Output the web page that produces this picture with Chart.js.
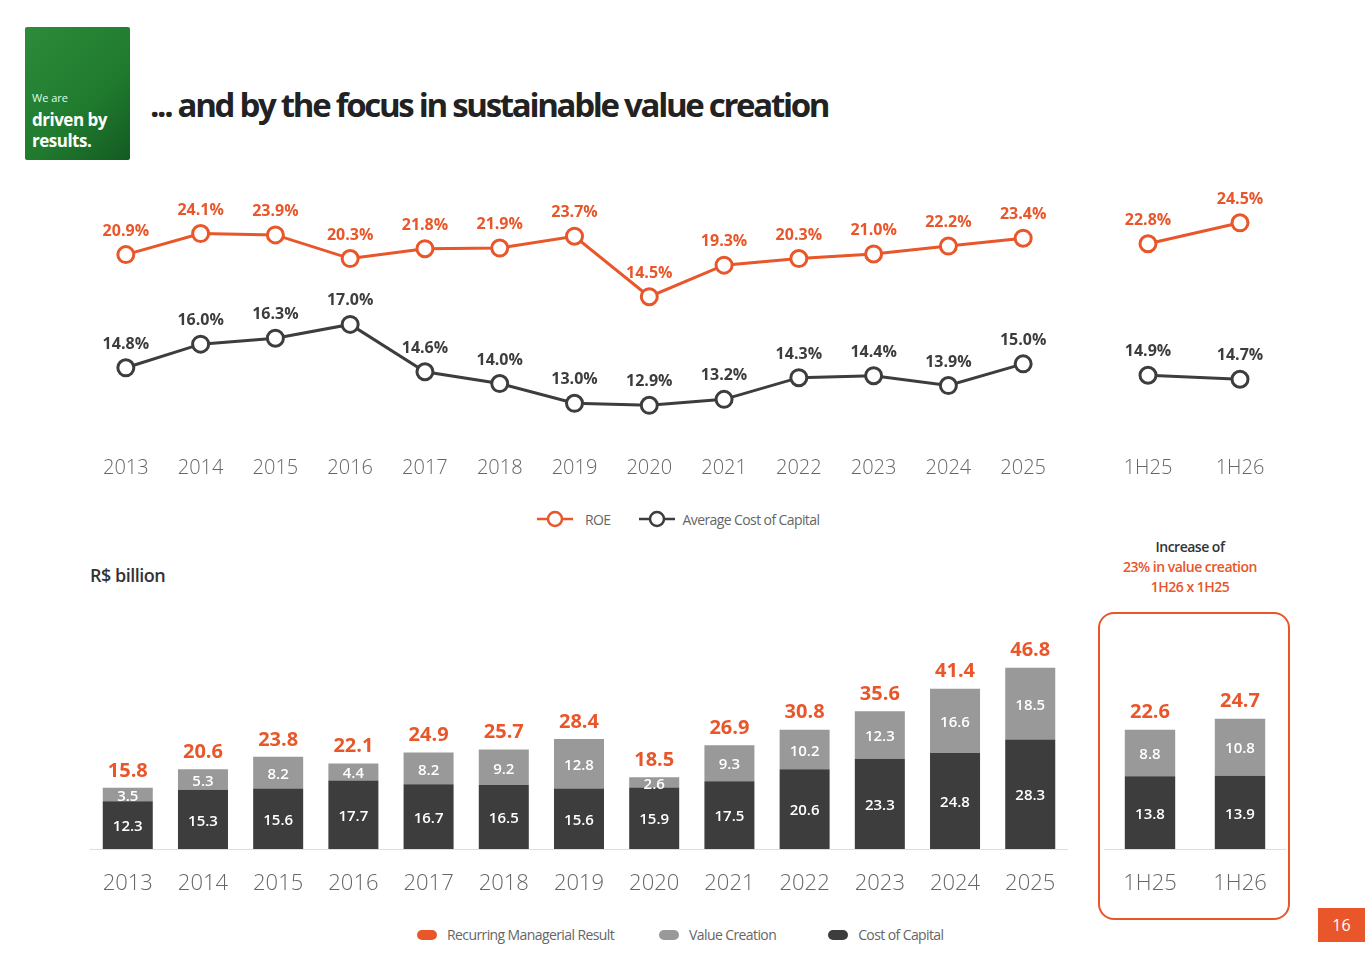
<!DOCTYPE html>
<html><head><meta charset="utf-8">
<script src="https://cdn.jsdelivr.net/npm/chart.js@4.4.1/dist/chart.umd.min.js"></script>
<style>
body{margin:0;width:1365px;height:965px;background:#fff;font-family:"Open Sans",sans-serif;position:relative;overflow:hidden}
.abs{position:absolute}
canvas{position:absolute}
</style></head><body>
<div class="abs" style="left:25px;top:27px;width:105px;height:133px;background:linear-gradient(135deg,#2e8b3a 0%,#1f7a2e 60%,#145a22 100%);border-radius:2px"></div>
<div class="abs" style="left:32px;top:90px;color:#dfe;font-size:11px">We are</div>
<div class="abs" style="left:32px;top:109px;color:#fff;font-size:17px;font-weight:700;line-height:21px;letter-spacing:-0.5px">driven by<br>results.</div>
<div class="abs" style="left:150px;top:82px;color:#222;font-size:33px;font-weight:700;letter-spacing:-2.3px">... and by the focus in sustainable value creation</div>
<div class="abs" style="left:90px;top:563px;color:#333;font-size:18px;font-weight:600;letter-spacing:-0.5px">R$ billion</div>
<div class="abs" style="left:1090px;top:537px;width:200px;text-align:center;font-size:14px;line-height:20px;letter-spacing:-0.5px;font-weight:600"><span style="color:#333">Increase of</span><br><span style="color:#e8562a">23% in value creation<br>1H26 x 1H25</span></div>
<div class="abs" style="left:1098px;top:612px;width:188px;height:304px;border:2px solid #e8562a;border-radius:16px"></div>
<div class="abs" style="left:1318px;top:908px;width:47px;height:34px;background:#e8562a;color:#fff;font-size:16px;text-align:center;line-height:34px">16</div>
<div class="abs" style="left:535px;top:509px;font-size:14px;color:#666;letter-spacing:-0.6px;display:flex;align-items:center">
<svg width="40" height="20"><line x1="2" y1="10" x2="38" y2="10" stroke="#e8562a" stroke-width="2.5"/><circle cx="20" cy="10" r="7" fill="#fff" stroke="#e8562a" stroke-width="2.5"/></svg><span style="margin:0 26px 0 10px">ROE</span>
<svg width="40" height="20"><line x1="2" y1="10" x2="38" y2="10" stroke="#3d3d3d" stroke-width="2.5"/><circle cx="20" cy="10" r="7" fill="#fff" stroke="#3d3d3d" stroke-width="2.5"/></svg><span style="margin-left:6px">Average Cost of Capital</span></div>
<div class="abs" style="left:417px;top:925px;font-size:14px;color:#666;letter-spacing:-0.6px;display:flex;align-items:center">
<span style="width:20px;height:10px;border-radius:5px;background:#e8562a;display:inline-block;margin-right:10px"></span><span style="margin-right:45px">Recurring Managerial Result</span>
<span style="width:20px;height:10px;border-radius:5px;background:#999;display:inline-block;margin-right:10px"></span><span style="margin-right:52px">Value Creation</span>
<span style="width:20px;height:10px;border-radius:5px;background:#3d3d3d;display:inline-block;margin-right:10px"></span><span>Cost of Capital</span></div>

<canvas id="l1" style="left:87px;top:170px" width="975" height="320"></canvas>
<canvas id="l2" style="left:1091px;top:170px" width="206" height="320"></canvas>
<canvas id="b1" style="left:81px;top:600px" width="996" height="310"></canvas>
<canvas id="b2" style="left:1102px;top:600px" width="186" height="310"></canvas>
<script>
const years=["2013","2014","2015","2016","2017","2018","2019","2020","2021","2022","2023","2024","2025"];
const halves=["1H25","1H26"];
const roe=[20.9,24.1,23.9,20.3,21.8,21.9,23.7,14.5,19.3,20.3,21.0,22.2,23.4];
const coc=[14.8,16.0,16.3,17.0,14.6,14.0,13.0,12.9,13.2,14.3,14.4,13.9,15.0];
const roeH=[22.8,24.5];
const cocH=[14.9,14.7];
const costCap=[12.3,15.3,15.6,17.7,16.7,16.5,15.6,15.9,17.5,20.6,23.3,24.8,28.3];
const valueCr=[3.5,5.3,8.2,4.4,8.2,9.2,12.8,2.6,9.3,10.2,12.3,16.6,18.5];
const total=[15.8,20.6,23.8,22.1,24.9,25.7,28.4,18.5,26.9,30.8,35.6,41.4,46.8];
const costCapH=[13.8,13.9];
const valueCrH=[8.8,10.8];
const totalH=[22.6,24.7];

const OR="#e8562a",DK="#3d3d3d",GR="#999999";
Chart.defaults.font.family="'Open Sans',sans-serif";
Chart.defaults.animation=false;
Chart.defaults.responsive=false;
Chart.defaults.plugins.legend.display=false;
Chart.defaults.plugins.tooltip.enabled=false;

const lineLabels={id:'ll',afterDatasetsDraw(c){const x=c.ctx;x.save();x.font="700 16px 'Open Sans'";x.textAlign='center';
c.data.datasets.forEach((d,i)=>{x.fillStyle=d.borderColor;c.getDatasetMeta(i).data.forEach((p,j)=>{x.fillText(d.data[j].toFixed(1)+'%',p.x,p.y-19);});});x.restore();}};
function lineChart(id,labels,a,b,roeR,cocR,off){
 new Chart(document.getElementById(id),{type:'line',data:{labels,datasets:[
  {data:a,borderColor:OR,yAxisID:'y',borderWidth:3,pointRadius:8,pointBorderWidth:3,pointBackgroundColor:'#fff'},
  {data:b,borderColor:DK,yAxisID:'y1',borderWidth:3,pointRadius:8,pointBorderWidth:3,pointBackgroundColor:'#fff'}]},
 options:{layout:{padding:{top:10}},scales:{
  x:{offset:off,grid:{display:false,drawTicks:false},border:{display:false},ticks:{padding:16,color:'#666',font:{size:20,weight:'300'}},afterFit(s){s.height=50;}},
  y:{display:false,min:roeR[0],max:roeR[1]},y1:{display:false,min:cocR[0],max:cocR[1]}}},plugins:[lineLabels]});
}
lineChart('l1',years,roe,coc,[-7.3,32.1],[11.14,24.27],false);
lineChart('l2',halves,roeH,cocH,[6.85,27.9],[11.65,24.65],true);

const barLabels={id:'bl',afterDatasetsDraw(c){const x=c.ctx;x.save();x.textAlign='center';x.textBaseline='middle';
 [0,1].forEach(i=>{const d=c.data.datasets[i];x.fillStyle='#fff';x.font="600 15px 'Open Sans'";
  c.getDatasetMeta(i).data.forEach((e,j)=>{x.fillText(d.data[j].toFixed(1),e.x,(e.y+e.base)/2+2);});});
 const tot=c.options.totals;x.fillStyle=OR;x.font="700 20px 'Open Sans'";
 c.getDatasetMeta(1).data.forEach((e,j)=>{x.fillText(tot[j].toFixed(1),e.x,e.y-17);});x.restore();}};
function barChart(id,labels,a,b,tot,max,bp){
 new Chart(document.getElementById(id),{type:'bar',data:{labels,datasets:[
  {data:a,backgroundColor:DK,stack:'s'},{data:b,backgroundColor:GR,stack:'s'}]},
 options:{totals:tot,datasets:{bar:{barPercentage:bp,categoryPercentage:1}},scales:{
  x:{stacked:true,grid:{display:false,drawTicks:false},border:{display:true,color:'#ddd'},ticks:{padding:22,color:'#666',font:{size:22,weight:'300'}},afterFit(s){s.height=61;}},
  y:{stacked:true,display:false,min:0,max}}},plugins:[barLabels]});
}
barChart('b1',years,costCap,valueCr,total,64.3,0.665);
barChart('b2',halves,costCapH,valueCrH,totalH,47.2,0.56);
</script></body></html>
